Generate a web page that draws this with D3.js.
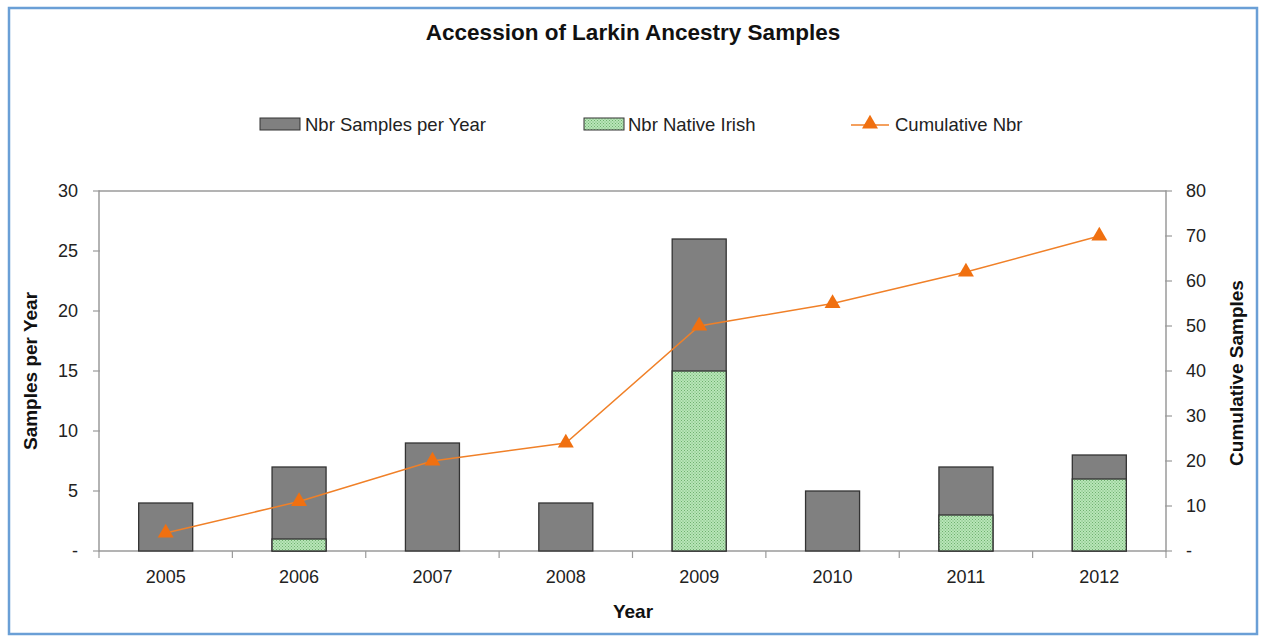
<!DOCTYPE html>
<html><head><meta charset="utf-8">
<script src="https://cdn.jsdelivr.net/npm/d3@7"></script>
<style>body{margin:0;background:#fff;}svg{display:block;font-family:"Liberation Sans",Arial,sans-serif;}</style>
</head><body>
<svg id="c" width="1262" height="638"></svg>
<script>
const years = ["2005","2006","2007","2008","2009","2010","2011","2012"];
const samplesPerYear = [4,7,9,4,26,5,7,8];
const nativeIrish = [0,1,0,0,15,0,3,6];
const cumulative = [4,11,20,24,50,55,62,70];
const leftTicks = [0,5,10,15,20,25,30];
const rightTicks = [0,10,20,30,40,50,60,70,80];

const svg = d3.select("#c");
const L=99, R=1166, T=191, B=551;

// border
svg.append("rect").attr("x",9).attr("y",8).attr("width",1248).attr("height",626)
  .attr("fill","#fff").attr("stroke","#6a9fd6").attr("stroke-width",2.5);

const defs = svg.append("defs");
const pat = defs.append("pattern").attr("id","dots").attr("patternUnits","userSpaceOnUse").attr("width",3).attr("height",3);
pat.append("rect").attr("width",3).attr("height",3).attr("fill","#b8e6b8");
pat.append("rect").attr("x",0).attr("y",0).attr("width",1).attr("height",1).attr("fill","#6fb06f");
pat.append("rect").attr("x",1.5).attr("y",1.5).attr("width",1).attr("height",1).attr("fill","#6fb06f");

const x = d3.scaleBand().domain(years).range([L,R]).paddingInner(0.595).paddingOuter(0.2975);
const yL = d3.scaleLinear().domain([0,30]).range([B,T]);
const yR = d3.scaleLinear().domain([0,80]).range([B,T]);

// plot frame
svg.append("rect").attr("x",L).attr("y",T).attr("width",R-L).attr("height",B-T)
  .attr("fill","none").attr("stroke","#9a9a9a").attr("stroke-width",1.5);

// bars
svg.append("g").selectAll("rect").data(years).join("rect")
  .attr("x",d=>x(d)).attr("width",x.bandwidth())
  .attr("y",(d,i)=>yL(samplesPerYear[i])).attr("height",(d,i)=>B-yL(samplesPerYear[i]))
  .attr("fill","#808080").attr("stroke","#333").attr("stroke-width",1.3);
svg.append("g").selectAll("rect").data(years.filter((d,i)=>nativeIrish[i]>0)).join("rect")
  .attr("x",d=>x(d)).attr("width",x.bandwidth())
  .attr("y",d=>yL(nativeIrish[years.indexOf(d)])).attr("height",d=>B-yL(nativeIrish[years.indexOf(d)]))
  .attr("fill","url(#dots)").attr("stroke","#333").attr("stroke-width",1.3);

// axes
const fmtL = d=> d===0?"-":d;
const axL = d3.axisLeft(yL).tickValues(leftTicks).tickFormat(fmtL).tickSize(0).tickPadding(21);
const gL = svg.append("g").attr("transform",`translate(${L},0)`).call(axL);
const axR = d3.axisRight(yR).tickValues(rightTicks).tickFormat(fmtL).tickSize(0).tickPadding(20);
const gR = svg.append("g").attr("transform",`translate(${R},0)`).call(axR);
[gL,gR].forEach(g=>{g.select(".domain").remove();
  g.selectAll("text").attr("font-size",18).attr("fill","#222").attr("font-family","Liberation Sans, Arial, sans-serif");});
// small ticks crossing axes
svg.append("g").selectAll("line").data(leftTicks).join("line")
  .attr("x1",L-6).attr("x2",L+1).attr("y1",d=>yL(d)).attr("y2",d=>yL(d)).attr("stroke","#9a9a9a").attr("stroke-width",1.2);
svg.append("g").selectAll("line").data(rightTicks).join("line")
  .attr("x1",R-1).attr("x2",R+6).attr("y1",d=>yR(d)).attr("y2",d=>yR(d)).attr("stroke","#9a9a9a").attr("stroke-width",1.2);

const axB = d3.axisBottom(x).tickSize(0).tickPadding(19);
const gB = svg.append("g").attr("transform",`translate(0,${B})`).call(axB);
gB.select(".domain").remove();
gB.selectAll("text").attr("font-size",18).attr("fill","#222").attr("font-family","Liberation Sans, Arial, sans-serif");
const step = x.step();
svg.append("g").selectAll("line").data(d3.range(9)).join("line")
  .attr("x1",i=>L+i*step).attr("x2",i=>L+i*step).attr("y1",B).attr("y2",B+7).attr("stroke","#9a9a9a").attr("stroke-width",1.2);

// line
const cx = (d)=> x(d)+x.bandwidth()/2;
const line = d3.line().x((d,i)=>cx(years[i])).y(d=>yR(d));
svg.append("path").datum(cumulative).attr("d",line).attr("fill","none").attr("stroke","#f08028").attr("stroke-width",1.5);
const tri = d3.symbol().type(d3.symbolTriangle).size(110);
svg.append("g").selectAll("path").data(cumulative).join("path")
  .attr("d",tri).attr("transform",(d,i)=>`translate(${cx(years[i])},${yR(d)})`).attr("fill","#f07010");

// title & labels
svg.append("text").attr("x",633).attr("y",40).attr("text-anchor","middle").attr("font-size",22.5).attr("font-weight","bold").attr("fill","#111").text("Accession of Larkin Ancestry Samples");
svg.append("text").attr("x",633).attr("y",618).attr("text-anchor","middle").attr("font-size",19).attr("font-weight","bold").attr("fill","#111").text("Year");
svg.append("text").attr("transform","translate(37,371) rotate(-90)").attr("text-anchor","middle").attr("font-size",19).attr("font-weight","bold").attr("fill","#111").text("Samples per Year");
svg.append("text").attr("transform","translate(1243,373) rotate(-90)").attr("text-anchor","middle").attr("font-size",19).attr("font-weight","bold").attr("fill","#111").text("Cumulative Samples");

// legend
const lg = svg.append("g").attr("font-size",18.5).attr("fill","#222");
lg.append("rect").attr("x",260).attr("y",118).attr("width",40).attr("height",12).attr("fill","#808080").attr("stroke","#333");
lg.append("text").attr("x",305).attr("y",131).text("Nbr Samples per Year");
lg.append("rect").attr("x",584).attr("y",118).attr("width",40).attr("height",12).attr("fill","url(#dots)").attr("stroke","#333");
lg.append("text").attr("x",628).attr("y",131).text("Nbr Native Irish");
lg.append("line").attr("x1",851).attr("x2",889).attr("y1",125).attr("y2",125).attr("stroke","#f08028").attr("stroke-width",1.5);
lg.append("path").attr("d",tri).attr("transform","translate(870,124)").attr("fill","#f07010");
lg.append("text").attr("x",895).attr("y",131).text("Cumulative Nbr");
</script>
</body></html>
